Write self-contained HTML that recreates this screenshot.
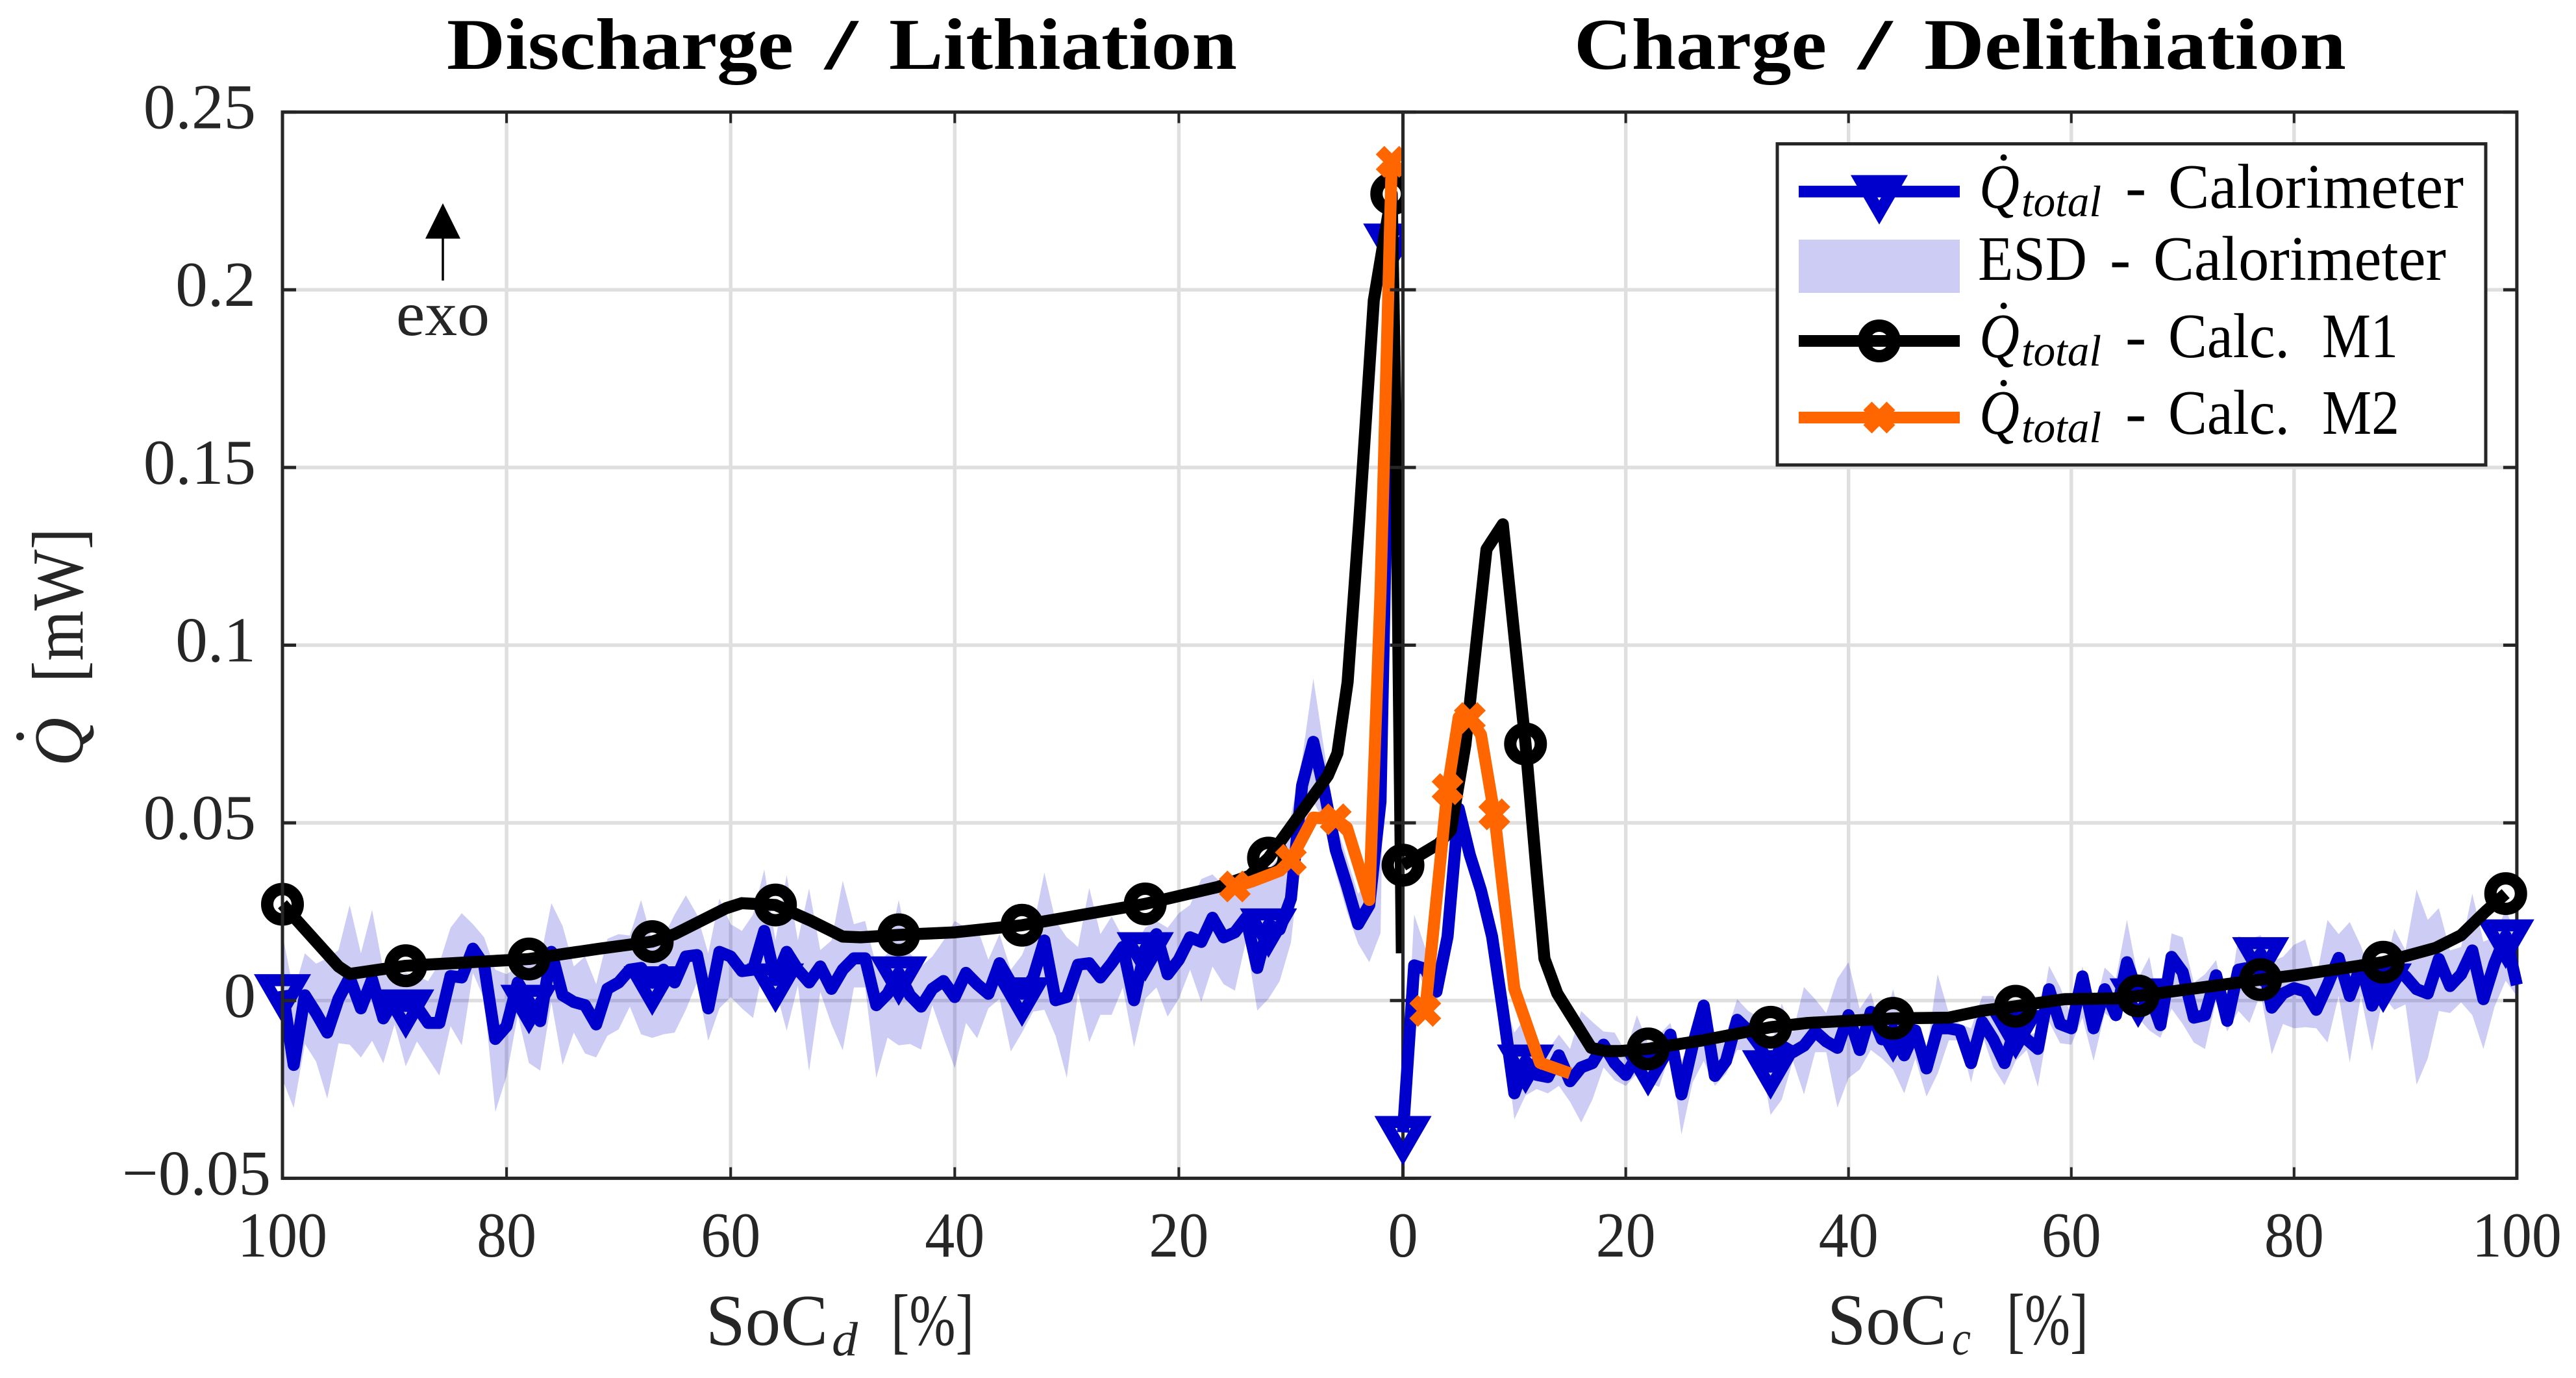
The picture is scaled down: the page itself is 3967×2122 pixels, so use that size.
<!DOCTYPE html>
<html lang="en">
<head>
<meta charset="utf-8">
<title>Heat flow during discharge and charge</title>
<style>
html,body{margin:0;padding:0;background:#fff;}
svg{display:block;}
text{font-family:"Liberation Serif",serif;fill:#262626;}
.tick{font-size:99px;}
.ttl{font-size:112px;font-weight:bold;fill:#000;}
.lg{font-size:97px;fill:#000;}
.sub{font-size:68px;font-style:italic;fill:#000;}
</style>
</head>
<body>
<svg id="chart" xmlns="http://www.w3.org/2000/svg" width="3967" height="2122" viewBox="0 0 3967 2122">
<defs><clipPath id="left-clip"><rect x="0" y="0" width="2158" height="2122"/></clipPath></defs>
<rect x="0" y="0" width="3967" height="2122" fill="#fff"/>
<g id="grid"></g>
<g id="left-plot" clip-path="url(#left-clip)"></g>
<g id="axes"></g>
<g id="right-plot"></g>
<g id="tick-labels"></g>

<g>
<text class="ttl" x="688" y="106" textLength="534" lengthAdjust="spacingAndGlyphs">Discharge</text>
<text class="ttl" x="1270" y="106" textLength="51" lengthAdjust="spacingAndGlyphs">/</text>
<text class="ttl" x="1369" y="106" textLength="536" lengthAdjust="spacingAndGlyphs">Lithiation</text>
</g>
<g>
<text class="ttl" x="2424" y="106" textLength="389" lengthAdjust="spacingAndGlyphs">Charge</text>
<text class="ttl" x="2861" y="106" textLength="53" lengthAdjust="spacingAndGlyphs">/</text>
<text class="ttl" x="2963" y="106" textLength="650" lengthAdjust="spacingAndGlyphs">Delithiation</text>
</g>

<g>
<text x="1087" y="2071" font-size="112" textLength="188" lengthAdjust="spacingAndGlyphs">SoC</text>
<text x="1281" y="2087" font-size="74" font-style="italic" textLength="40" lengthAdjust="spacingAndGlyphs">d</text>
<text x="1372" y="2071" font-size="112" textLength="128" lengthAdjust="spacingAndGlyphs">[%]</text>
</g>
<g>
<text x="2814" y="2070" font-size="112" textLength="184" lengthAdjust="spacingAndGlyphs">SoC</text>
<text x="3006" y="2086" font-size="74" font-style="italic" textLength="29" lengthAdjust="spacingAndGlyphs">c</text>
<text x="3090" y="2070" font-size="112" textLength="126" lengthAdjust="spacingAndGlyphs">[%]</text>
</g>

<g>
<text transform="translate(127,1180) rotate(-90)" font-size="108" font-style="italic" textLength="75" lengthAdjust="spacingAndGlyphs">Q</text>
<circle cx="31" cy="1134" r="6" fill="#262626"/>
<text transform="translate(127,1051) rotate(-90)" font-size="112" textLength="238" lengthAdjust="spacingAndGlyphs">[mW]</text>
</g>

<g>
<line x1="682" y1="432" x2="682" y2="360" stroke="#000" stroke-width="3.5"/>
<polygon points="682,313 709,367.5 655,367.5" fill="#000"/>
<text x="610" y="516" font-size="97" textLength="144" lengthAdjust="spacingAndGlyphs">exo</text>
</g>

<g>
<rect x="2737" y="221.5" width="1091" height="494.5" fill="#fff" stroke="#262626" stroke-width="5"/>
<g id="legend-samples"></g>

<g>
<circle cx="3085.6" cy="242.6" r="5" fill="#000"/>
<text class="lg" x="3048" y="320" font-style="italic" textLength="62" lengthAdjust="spacingAndGlyphs">Q</text>
<text class="sub" x="3113" y="333" textLength="123" lengthAdjust="spacingAndGlyphs">total</text>
<text class="lg" x="3273" y="320">-</text>
<text class="lg" x="3339" y="320" textLength="455" lengthAdjust="spacingAndGlyphs">Calorimeter</text>
</g>

<g>
<text class="lg" x="3046" y="431" textLength="168" lengthAdjust="spacingAndGlyphs">ESD</text>
<text class="lg" x="3249" y="431">-</text>
<text class="lg" x="3316" y="431" textLength="451" lengthAdjust="spacingAndGlyphs">Calorimeter</text>
</g>

<g>
<circle cx="3085.6" cy="471" r="5" fill="#000"/>
<text class="lg" x="3048" y="550" font-style="italic" textLength="62" lengthAdjust="spacingAndGlyphs">Q</text>
<text class="sub" x="3113" y="563" textLength="123" lengthAdjust="spacingAndGlyphs">total</text>
<text class="lg" x="3273" y="550">-</text>
<text class="lg" x="3339" y="550" textLength="187" lengthAdjust="spacingAndGlyphs">Calc.</text>
<text class="lg" x="3576" y="550" textLength="117" lengthAdjust="spacingAndGlyphs">M1</text>
</g>

<g>
<circle cx="3085.6" cy="590" r="5" fill="#000"/>
<text class="lg" x="3048" y="668" font-style="italic" textLength="62" lengthAdjust="spacingAndGlyphs">Q</text>
<text class="sub" x="3113" y="681" textLength="123" lengthAdjust="spacingAndGlyphs">total</text>
<text class="lg" x="3273" y="668">-</text>
<text class="lg" x="3339" y="668" textLength="187" lengthAdjust="spacingAndGlyphs">Calc.</text>
<text class="lg" x="3576" y="668" textLength="119" lengthAdjust="spacingAndGlyphs">M2</text>
</g>
</g>
</svg>

<script>
// ---- Tick labels ----
const yTicks = [-0.05, 0, 0.05, 0.1, 0.15, 0.2, 0.25];
const yTickLabels = ["\u22120.05", "0", "0.05", "0.1", "0.15", "0.2", "0.25"];
const xTicks = [0, 20, 40, 60, 80, 100];
const xTickLabels = ["0", "20", "40", "60", "80", "100"];

// ---- Discharge side. Blue and shade run SoC 100, 99, ... 1 ----
const blueLeft = [.0028,-.0181,.0015,-.0035,-.009,.0005,.0065,-.0022,.006,-.005,.0005,-.0015,-.0017,-.0063,-.0063,.0069,.0065,.0146,.01,-.0108,-.0072,.0051,-.0002,-.0058,.0137,.0015,-.0004,-.0013,-.0067,.0033,.0051,.0087,.0092,.005,.0087,.0051,.0124,.0128,-.0022,.0137,.0124,.0083,.0087,.0196,.0058,.0137,.0087,.0051,.0096,.0033,.0087,.0119,.0119,-.0013,.0019,.0078,.0015,-.0017,.0033,.0055,.001,.0078,.0046,.0019,.0105,.0051,.0019,.0065,.0169,.0001,.001,.0101,.0105,.0065,.0105,.0151,.0001,.0146,.0187,.0074,.0115,.0178,.0165,.0233,.0178,.0192,.0233,.0092,.0213,.02,.0287,.0605,.0728,.0587,.0424,.0324,.0215,.0269,.056,.214];
const shadeLeftUpper = [.0187,.0024,.0133,.0104,.0119,.0142,.0269,.0133,.0255,.0087,.0069,.0078,.0069,.0055,.0105,.0205,.0246,.0215,.0178,.0087,.0074,.0096,.0105,.0115,.0274,.021,.0096,.0124,.0046,.0174,.0187,.0183,.0283,.0169,.0178,.0242,.0296,.0242,.0133,.0287,.0215,.0196,.0242,.0369,.0169,.0353,.0169,.0315,.0142,.0169,.0337,.0215,.0224,.0096,.0133,.0283,.0133,.0096,.0124,.0169,.0224,.0205,.0205,.0115,.0187,.0087,.0128,.0205,.036,.0224,.0178,.0151,.0317,.0187,.0237,.0178,.0151,.0205,.0224,.0205,.0246,.0269,.0342,.0355,.0324,.0324,.0333,.0351,.0369,.0405,.052,.068,.0906,.07,.05,.04,.03,.035,.07,.225];
const shadeLeftLower = [-.0222,-.0302,-.0122,-.0172,-.0276,-.012,-.0124,-.016,-.0113,-.0176,-.0067,-.0185,-.0115,-.0163,-.0211,-.0072,-.0126,.0078,.0005,-.0313,-.0213,-.004,-.0176,-.0197,-.0004,-.0181,-.009,-.0149,-.016,-.0099,-.0081,-.0017,-.0095,-.0105,-.0095,-.009,-.0026,.0051,-.0113,-.0022,.001,-.0022,-.0049,.0105,.0033,-.0085,.0042,-.0199,.0024,-.0067,-.014,.0037,.0037,-.0217,-.0104,-.0126,-.0122,-.0138,-.0013,-.0104,-.019,-.0063,-.0106,-.0022,.0005,-.0143,-.009,-.0031,-.0026,-.0099,-.0217,.0024,-.0117,-.004,-.004,.0037,-.0131,.0005,.0037,-.0045,.0005,.0087,-.0004,.0096,.0046,.0028,.0169,-.0028,.0005,.0055,.0163,.045,.056,.05,.036,.025,.016,.0108,.019,.2];
const blueLeftMarkerSoC = [100,89,78,67,56,45,34,23,12,1];

const blackLeftSoC = [100,95,94,89,78,71.7,67,65,60.4,59,56,52.8,50,48.4,45,40,34,23,16.5,13.7,12,6.7,5.85,4.94,3.9,2.6,1,.6,.1];
const blackLeftValues = [.0271,.0096,.0075,.0098,.0117,.0146,.0166,.0187,.026,.0274,.0269,.0224,.018,.0178,.0185,.0192,.0212,.0272,.032,.0351,.0401,.0633,.0696,.0896,.135,.197,.227,.1536,.0133];
const blackLeftMarkerSoC = [100,89,78,67,56,45,34,23,12,1];

const orangeLeftSoC = [15,13.5,11,10,8,6,5,3,2,1];
const orangeLeftValues = [.0321,.0335,.0365,.0396,.0515,.051,.0487,.0283,.115,.236];
const orangeLeftMarkerSoC = [15,10,6,1];

// ---- Charge side. Blue and shade run SoC 0, 1, ... 100 ----
const blueRight = [-.0371,.0099,.0089,.0025,.018,.054,.041,.031,.018,-.0034,-.0261,-.017,-.0209,-.0215,-.0154,-.0227,-.0188,-.0176,-.0124,-.0176,-.0209,-.0157,-.0177,-.017,-.0096,-.0264,-.0127,-.0014,-.0212,-.017,-.0054,-.0084,-.0127,-.0186,-.0127,-.0145,-.0127,-.0087,-.0115,-.0133,-.0041,-.0139,-.0032,-.0109,-.0082,-.0154,-.0084,-.0191,-.0078,-.0078,-.0084,-.0176,-.006,-.0109,-.0176,-.0073,-.0109,-.0136,.0032,-.0066,-.0078,.0068,-.0078,.0032,-.0041,.0108,.0016,.002,-.0069,.0123,.008,-.0048,-.0041,.0071,-.0057,.0087,.0093,.0132,-.002,.002,.0035,.0026,-.0026,.0044,.012,.0013,.0099,-.0014,.0058,.0093,.0068,.0032,.002,.0117,.0041,.0074,.0141,.0004,.0105,.0182,.0044];
const shadeRightUpper = [-.035,.0242,.0148,.006,.022,.058,.045,.035,.022,.001,-.009,-.0048,-.0127,-.0139,-.0096,-.0136,-.0029,-.006,-.0087,-.009,-.0145,-.0041,-.0121,-.0096,-.0063,-.017,-.0102,-.0017,-.0127,-.0096,.0004,-.0029,-.0048,-.0139,-.0008,-.009,.0038,.0004,-.0035,.0062,.0108,-.0023,.0023,-.009,.0032,-.009,-.0078,-.0145,.0074,-.0035,-.0066,-.0078,.0013,.0013,-.0066,-.0023,-.0096,-.009,.0098,.0038,-.0041,.0096,-.0035,.0093,.0062,.0227,.0062,.0123,-.0041,.0189,.0178,.005,.0074,.0114,-.0035,.0181,.0172,.0184,.0111,.0123,.0157,.0172,.0062,.0227,.0187,.0221,.0154,.0068,.0074,.0202,.0141,.0312,.0227,.026,.0141,.0151,.0301,.0166,.0178,.0257,.0178];
const shadeRightLower = [-.039,.0111,.003,-.001,.014,.05,.037,.027,.014,-.008,-.0334,-.0267,-.0249,-.0261,-.024,-.0285,-.0343,-.0279,-.0188,-.0224,-.024,-.0206,-.023,-.0243,-.0145,-.0377,-.023,-.017,-.024,-.0206,-.0139,-.0139,-.0139,-.0322,-.0279,-.017,-.0264,-.0145,-.0145,-.0301,-.0218,-.0194,-.0139,-.0163,-.0194,-.0261,-.0163,-.027,-.0206,-.0112,-.0112,-.023,-.0096,-.0188,-.0238,-.017,-.0139,-.0243,-.006,-.012,-.0124,-.0048,-.017,-.0035,-.006,.0001,-.0048,-.0084,-.0105,-.0023,-.0066,-.0118,-.0136,.0001,-.0087,-.0029,-.0063,.002,-.0151,-.0066,-.0078,-.0075,-.0078,-.0118,.0013,-.0174,.0013,-.0142,.0013,-.0026,-.0011,-.0237,-.0163,-.0029,-.0035,-.0005,-.0041,-.0136,-.0017,.0056,.0013];
const blueRightMarkerSoC = [0,11,22,33,44,55,66,77,88,99];

const blackRightSoC = [0,3.2,4.3,5.6,7.5,8.96,11,12,12.7,13.85,16.9,18.2,19.5,22,26.9,33,36.3,44,49,51.9,55,59.4,63.9,66,77,80.8,88,92.7,95,97.2,99];
const blackRightValues = [.0381,.0441,.048,.072,.127,.134,.0722,.036,.0118,.002,-.0133,-.0142,-.0142,-.0136,-.0112,-.0075,-.0063,-.005,-.0048,-.0029,-.0016,.0004,.0006,.0013,.0059,.0074,.0108,.0148,.0184,.0251,.0301];
const blackRightMarkerSoC = [0,11,22,33,44,55,66,77,88,99];

const orangeRightSoC = [2,4,5,6,7,8.2,10,12.3,15];
const orangeRightValues = [-.0029,.0595,.0797,.0795,.0748,.0524,.0033,-.0175,-.0205];
const orangeRightMarkerSoC = [2,4,6,8.2];

// ---- Axis functions ----
const yScale = v => 1540.8 - 5472.8 * v;
const xLeft = v => 2160.5 - 17.255 * v;
const xRight = v => 2160.6 + 17.153 * v;

const NS = "http://www.w3.org/2000/svg";
const BLUE = "#0000cc", BLACK = "#000000", ORANGE = "#ff6600";
const GRID = "#dfdfdf", AXIS = "#262626";
const PLOT_TOP = yScale(0.25), PLOT_BOTTOM = yScale(-0.05);
const LINE_W = 18.5;

function make(tag, attrs, parent) {
  const el = document.createElementNS(NS, tag);
  for (const k in attrs) el.setAttribute(k, attrs[k]);
  parent.appendChild(el);
  return el;
}
function seqDown(n) { const a = []; for (let i = 0; i < n; i++) a.push(100 - i); return a; }
function seqUp(n) { const a = []; for (let i = 0; i < n; i++) a.push(i); return a; }
function pts(xs, ys, xf) { return xs.map((x, i) => xf(x).toFixed(1) + "," + yScale(ys[i]).toFixed(1)).join(" "); }

function drawTriangle(parent, cx, cy) {
  const el = make("polygon", {
    points: (cx-28)+","+(cy-16.15)+" "+(cx+28)+","+(cy-16.15)+" "+cx+","+(cy+32.3),
    fill: "none", stroke: BLUE, "stroke-width": LINE_W, "stroke-linejoin": "miter", "stroke-miterlimit": 10
  }, parent);
  
  
}
function drawCircle(parent, cx, cy) {
  const el = make("circle", { cx: cx, cy: cy, r: 23.5, fill: "none", stroke: BLACK, "stroke-width": 19 }, parent);
  
  
}
function drawCross(parent, cx, cy) {
  const el = make("path", {
    d: "M"+(cx-18)+" "+(cy-18)+"L"+(cx+18)+" "+(cy+18)+"M"+(cx-18)+" "+(cy+18)+"L"+(cx+18)+" "+(cy-18),
    fill: "none", stroke: ORANGE, "stroke-width": LINE_W
  }, parent);
  
  
}

function drawSide(group, xf, blueSoC, blue, upper, lower, blueMarks, blackSoC, black, blackMarks, orangeSoC, orange, orangeMarks, side) {
  const revX = blueSoC.slice().reverse();
  const revL = lower.slice().reverse();
  const shade = make("polygon", {
    points: pts(blueSoC, upper, xf) + " " + pts(revX, revL, xf),
    fill: BLUE, "fill-opacity": 0.2, stroke: "none"
  }, group);
  
  

  const blueLine = make("polyline", {
    points: pts(blueSoC, blue, xf), fill: "none", stroke: BLUE, "stroke-width": LINE_W, "stroke-linejoin": "round"
  }, group);
  
  
  blueMarks.forEach(s => drawTriangle(group, xf(s), yScale(blue[blueSoC.indexOf(s)])));

  const blackLine = make("polyline", {
    points: pts(blackSoC, black, xf), fill: "none", stroke: BLACK, "stroke-width": LINE_W, "stroke-linejoin": "round"
  }, group);
  
  
  blackMarks.forEach(s => drawCircle(group, xf(s), yScale(black[blackSoC.indexOf(s)])));

  const orangeLine = make("polyline", {
    points: pts(orangeSoC, orange, xf), fill: "none", stroke: ORANGE, "stroke-width": LINE_W, "stroke-linejoin": "round"
  }, group);
  
  
  orangeMarks.forEach(s => drawCross(group, xf(s), yScale(orange[orangeSoC.indexOf(s)])));
}

// ---- Grid ----
const gridG = document.getElementById("grid");
xTicks.forEach(t => {
  [xLeft(t), xRight(t)].forEach(px => {
    const g = make("line", { x1: px, x2: px, y1: PLOT_TOP, y2: PLOT_BOTTOM, stroke: GRID, "stroke-width": 5.5 }, gridG);
    
    
  });
});
yTicks.forEach(t => {
  const g = make("line", { x1: xLeft(100), x2: xRight(100), y1: yScale(t), y2: yScale(t), stroke: GRID, "stroke-width": 5.5 }, gridG);
  
  
});

// ---- Discharge data, under the axes ----
drawSide(document.getElementById("left-plot"), xLeft, seqDown(blueLeft.length), blueLeft, shadeLeftUpper, shadeLeftLower, blueLeftMarkerSoC,
  blackLeftSoC, blackLeftValues, blackLeftMarkerSoC, orangeLeftSoC, orangeLeftValues, orangeLeftMarkerSoC, "discharge");

// ---- Axes ----
const axesG = document.getElementById("axes");
const frame = make("rect", { x: xLeft(100), y: PLOT_TOP, width: xRight(100) - xLeft(100), height: PLOT_BOTTOM - PLOT_TOP, fill: "none", stroke: AXIS, "stroke-width": 5 }, axesG);


const midAxis = make("line", { x1: xLeft(0), x2: xLeft(0), y1: PLOT_TOP, y2: PLOT_BOTTOM, stroke: AXIS, "stroke-width": 5 }, axesG);


yTicks.forEach(t => {
  const py = yScale(t);
  [[xLeft(100), xLeft(100) + 21], [xLeft(0) - 20, xLeft(0) + 20], [xRight(100) - 21, xRight(100)]].forEach(seg => {
    const k = make("line", { x1: seg[0], x2: seg[1], y1: py, y2: py, stroke: AXIS, "stroke-width": 5 }, axesG);
    
    
  });
});
xTicks.forEach(t => {
  [xLeft(t), xRight(t)].forEach(px => {
    [[PLOT_BOTTOM - 17, PLOT_BOTTOM], [PLOT_TOP, PLOT_TOP + 17]].forEach(seg => {
      const k = make("line", { x1: px, x2: px, y1: seg[0], y2: seg[1], stroke: AXIS, "stroke-width": 4 }, axesG);
      
      
    });
  });
});

// ---- Charge data, over the axes ----
drawSide(document.getElementById("right-plot"), xRight, seqUp(blueRight.length), blueRight, shadeRightUpper, shadeRightLower, blueRightMarkerSoC,
  blackRightSoC, blackRightValues, blackRightMarkerSoC, orangeRightSoC, orangeRightValues, orangeRightMarkerSoC, "charge");

// ---- Tick labels ----
const labelsG = document.getElementById("tick-labels");
yTicks.forEach((t, i) => {
  const lab = make("text", { class: "tick", x: t < 0 ? 417 : 394, y: yScale(t) + 25, "text-anchor": "end" }, labelsG);
  lab.textContent = yTickLabels[i];
  
  
});
xTicks.forEach((t, i) => {
  [xLeft(t), xRight(t)].forEach(px => {
    const text = xTickLabels[i];
    const w = text.length * 46;
    const lab = make("text", { class: "tick", x: px - w / 2, y: 1935, textLength: w, lengthAdjust: "spacingAndGlyphs" }, labelsG);
    lab.textContent = text;
    
    
  });
});

// ---- Legend samples ----
const legG = document.getElementById("legend-samples");
const legendBlueLine = make("line", { x1: 2770, x2: 3018, y1: 295, y2: 295, stroke: BLUE, "stroke-width": 18 }, legG);


drawTriangle(legG, 2894, 295);
const legendShade = make("rect", { x: 2770, y: 369, width: 248, height: 82, fill: BLUE, "fill-opacity": 0.2 }, legG);


const legendBlackLine = make("line", { x1: 2770, x2: 3018, y1: 525, y2: 525, stroke: BLACK, "stroke-width": 18 }, legG);


drawCircle(legG, 2894, 525);
const legendOrangeLine = make("line", { x1: 2770, x2: 3018, y1: 643, y2: 643, stroke: ORANGE, "stroke-width": 18 }, legG);


drawCross(legG, 2894, 643);
</script>
</body>
</html>
